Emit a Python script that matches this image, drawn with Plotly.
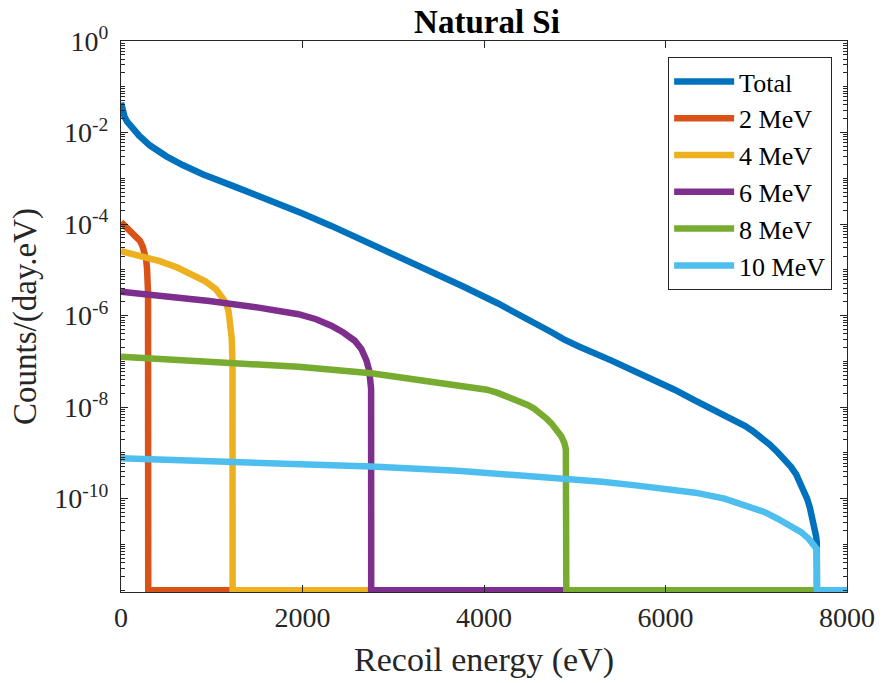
import plotly.graph_objects as go

# ---------------- data ----------------
FLOOR = 1e-12  # zero counts are drawn on the bottom of the log axis

total_x = [0, 15, 40, 70, 100, 150, 200, 317, 500, 680, 900, 1224, 1500, 1771, 2000,
           2318, 2700, 3049, 3400, 3777, 4150, 4506, 4750, 4880, 4960, 5052, 5400,
           5781, 6100, 6328, 6700, 6874, 6960, 7050, 7150, 7238, 7300, 7380, 7440,
           7494, 7530, 7560, 7590, 7620, 7645, 7660, 7667, 7669, 8000]
total_y = [4.47e-2, 3.16e-2, 2.19e-2, 1.70e-2, 1.41e-2, 1.07e-2, 8.51e-3, 5.25e-3,
           3.02e-3, 1.95e-3, 1.23e-3, 6.92e-4, 4.27e-4, 2.63e-4, 1.70e-4, 9.12e-5,
           4.17e-5, 2.00e-5, 9.33e-6, 4.27e-6, 1.86e-6, 8.13e-7, 4.27e-7, 3.02e-7,
           2.51e-7, 2.09e-7, 1.05e-7, 4.79e-8, 2.40e-8, 1.38e-8, 6.03e-9, 3.89e-9,
           3.02e-9, 2.24e-9, 1.51e-9, 1.02e-9, 7.59e-10, 5.01e-10, 3.39e-10,
           2.09e-10, 1.45e-10, 1.00e-10, 6.46e-11, 3.80e-11, 2.24e-11, 1.48e-11,
           1.12e-11, 0, 0]

mev2_x = [0, 60, 120, 171, 210, 240, 262, 277, 287, 294, 298, 300, 8000]
mev2_y = [1.10e-4, 8.51e-5, 6.92e-5, 5.50e-5, 4.27e-5, 3.16e-5, 2.40e-5, 1.66e-5,
          1.05e-5, 6.31e-6, 3.16e-6, 0, 0]

mev4_x = [0, 200, 426, 620, 790, 930, 1045, 1110, 1154, 1185, 1209, 1220, 1226, 1229,
          1230, 8000]
mev4_y = [2.57e-5, 2.09e-5, 1.55e-5, 1.12e-5, 7.94e-6, 5.62e-6, 3.80e-6, 2.69e-6,
          1.95e-6, 1.26e-6, 6.03e-7, 3.16e-7, 1.41e-7, 7.94e-8, 0, 0]

mev6_x = [0, 500, 973, 1500, 1956, 2150, 2317, 2450, 2576, 2648, 2703, 2735, 2750,
          2756, 2757, 8000]
mev6_y = [3.31e-6, 2.63e-6, 2.09e-6, 1.51e-6, 1.07e-6, 8.32e-7, 6.03e-7, 4.27e-7,
          2.82e-7, 1.86e-7, 1.07e-7, 6.31e-8, 3.98e-8, 2.51e-8, 0, 0]

mev8_x = [0, 1227, 1956, 2757, 3486, 3800, 4033, 4150, 4250, 4330, 4397, 4480, 4550,
          4620, 4689, 4740, 4780, 4820, 4853, 4885, 4902, 4907, 8000]
mev8_y = [1.26e-7, 9.55e-8, 7.59e-8, 5.50e-8, 3.55e-8, 2.88e-8, 2.40e-8, 2.04e-8,
          1.74e-8, 1.51e-8, 1.32e-8, 1.12e-8, 9.33e-9, 7.41e-9, 5.62e-9, 4.47e-9,
          3.55e-9, 2.82e-9, 2.29e-9, 1.66e-9, 1.20e-9, 0, 0]

mev10_x = [0, 1227, 2757, 3705, 4907, 5300, 5672, 6000, 6328, 6650, 6874, 7100, 7238,
           7380, 7494, 7580, 7640, 7666, 7669, 8000]
mev10_y = [7.59e-10, 6.46e-10, 5.01e-10, 4.07e-10, 2.82e-10, 2.34e-10, 1.95e-10,
           1.66e-10, 1.35e-10, 1.00e-10, 7.24e-11, 5.01e-11, 3.63e-11, 2.63e-11,
           1.86e-11, 1.32e-11, 1.00e-11, 7.94e-12, 0, 0]

series_names = ["Total", "2 MeV", "4 MeV", "6 MeV", "8 MeV", "10 MeV"]
series_colors = ["#0072BD", "#D95319", "#EDB120", "#7E2F8E", "#77AC30", "#4DBEEE"]

y_tick_exps = [0, -2, -4, -6, -8, -10]
x_tick_vals = [0, 2000, 4000, 6000, 8000]

# ---------------- figure ----------------
FONT = "Liberation Serif"
AX = "#262626"

xs = [total_x, mev2_x, mev4_x, mev6_x, mev8_x, mev10_x]
ys = [total_y, mev2_y, mev4_y, mev6_y, mev8_y, mev10_y]

fig = go.Figure()
for name, color, x, y in zip(series_names, series_colors, xs, ys):
    yy = [v if v > 0 else FLOOR for v in y]
    fig.add_trace(go.Scatter(x=x, y=yy, mode="lines", name=name,
                             line=dict(color=color, width=6.5)))

minor_vals = [k * 10.0 ** e for e in range(-12, 0) for k in range(1, 10)
              if not (k == 1 and e in y_tick_exps)]

fig.update_layout(
    width=887, height=683,
    margin=dict(l=121, r=34, t=41, b=90),
    paper_bgcolor="white", plot_bgcolor="white",
    font=dict(family=FONT, size=28, color=AX),
    title=dict(text="<b>Natural Si</b>", x=(121 + 853) / 2 / 887, xanchor="center",
               y=1 - 21 / 683, yanchor="middle", yref="container",
               font=dict(family=FONT, size=33, color="black")),
    showlegend=True,
    legend=dict(x=0.9795, y=0.971, xanchor="right", yanchor="top",
                bgcolor="white", bordercolor=AX, borderwidth=1,
                font=dict(family=FONT, size=26, color="black"),
                itemwidth=60, tracegroupgap=0),
)

fig.update_xaxes(
    range=[0, 8000], tickvals=x_tick_vals, ticks="inside", ticklen=7,
    tickcolor=AX, showline=True, linecolor=AX, linewidth=1, mirror="ticks",
    showgrid=False, zeroline=False,
    title=dict(text="Recoil energy (eV)", font=dict(family=FONT, size=34, color=AX)),
    tickfont=dict(family=FONT, size=28, color=AX),
)

fig.update_yaxes(
    type="log", range=[-12.04, 0],
    tickvals=[10.0 ** e for e in y_tick_exps],
    ticktext=["10<sup>%d</sup>" % e for e in y_tick_exps],
    ticks="inside", ticklen=7, tickcolor=AX, ticklabelstandoff=6,
    minor=dict(tickvals=minor_vals, ticks="inside", ticklen=4, tickcolor=AX, showgrid=False),
    showline=True, linecolor=AX, linewidth=1, mirror="ticks",
    showgrid=False, zeroline=False,
    title=dict(text="Counts/(day.eV)", font=dict(family=FONT, size=33, color=AX),
               standoff=7),
    tickfont=dict(family=FONT, size=28, color=AX),
)

fig.write_html("out.html")
